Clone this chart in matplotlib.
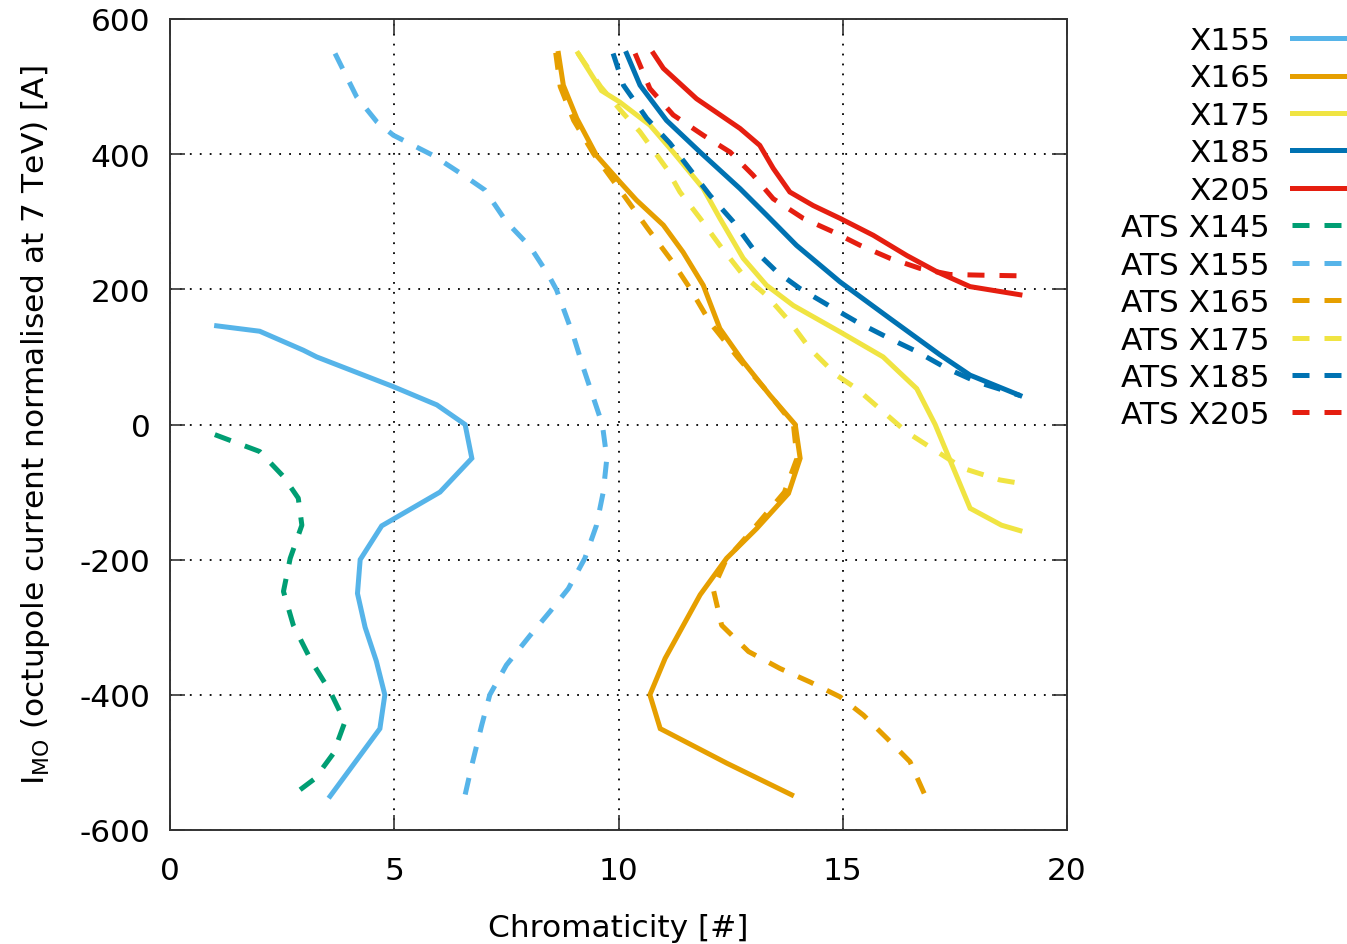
import matplotlib
matplotlib.use('Agg')
from matplotlib import pyplot as plt

plt.rcParams['axes.unicode_minus'] = False

# colours (gnuplot-like palette)
c_green = '#009e73'
c_lblue = '#56b4e9'
c_orange = '#e69f00'
c_yellow = '#f0e442'
c_dblue = '#0072b2'
c_red = '#e51e10'

# solid curves: chromaticity (x) vs octupole current (y)
x155_x = [1.04, 2.0, 2.97, 3.27, 4.98, 5.95, 6.58, 6.73, 6.02, 4.72, 4.24, 4.18, 4.35, 4.6, 4.79, 4.68, 3.57]
x155_y = [146, 138, 110, 100, 56, 29, 0, -50, -100, -150, -200, -250, -300, -350, -400, -450, -550]

x165_x = [8.66, 8.77, 9.07, 9.51, 10.03, 10.4, 11.0, 11.44, 11.89, 12.26, 12.78, 13.38, 13.94,
          14.05, 13.79, 13.08, 12.41, 11.82, 11.04, 10.7, 10.93, 12.41, 13.86]
x165_y = [549, 502, 453, 398, 359, 332, 295, 255, 206, 142, 93, 43, 0,
          -50, -102, -154, -198, -252, -346, -400, -450, -501, -548]

x175_x = [9.1, 9.62, 10.03, 10.7, 11.22, 11.89, 12.26, 12.78, 13.3, 13.9, 14.94, 15.9, 16.65,
          17.06, 17.84, 18.54, 18.95]
x175_y = [549, 494, 477, 443, 403, 349, 305, 246, 206, 176, 137, 100, 53, 0, -124, -149, -157]

x185_x = [10.18, 10.48, 11.07, 11.82, 12.71, 13.3, 13.97, 14.94, 16.05, 17.17, 17.84, 18.95]
x185_y = [549, 502, 450, 403, 349, 310, 265, 211, 157, 103, 73, 43]

x205_x = [10.78, 11.0, 11.74, 12.71, 13.15, 13.45, 13.82, 14.34, 14.94, 15.68, 16.43, 17.1, 17.84, 18.95]
x205_y = [549, 527, 482, 438, 413, 379, 344, 324, 305, 280, 250, 226, 204, 192]

# ATS (dashed) curves
ats145_x = [1.0, 2.0, 2.53, 2.86, 2.94, 2.68, 2.53, 2.75, 3.16, 3.57, 3.9, 3.64, 3.23, 2.75]
ats145_y = [-15, -40, -77, -109, -149, -198, -247, -297, -351, -395, -440, -487, -524, -548]

ats155_x = [3.68, 4.16, 4.61, 4.98, 5.87, 6.54, 7.02, 7.5, 8.03, 8.44, 8.62, 8.99, 9.22, 9.64,
            9.74, 9.66, 9.51, 9.25, 8.88, 8.47, 8.03, 7.5, 7.13, 6.95, 6.73, 6.58]
ats155_y = [549, 485, 448, 428, 398, 369, 347, 300, 263, 221, 199, 132, 83, 0,
            -50, -100, -149, -198, -243, -277, -312, -356, -400, -445, -504, -548]

ats165_x = [8.6, 8.7, 9.0, 9.45, 10.0, 10.65, 11.2, 11.6, 12.05, 12.65, 13.3, 13.9, 13.98, 13.7,
            13.0, 12.4, 12.11, 12.3, 12.9, 13.6, 14.27, 14.94, 15.46, 15.98, 16.5, 16.83]
ats165_y = [550, 500, 450, 400, 350, 290, 241, 201, 150, 100, 50, 0, -50, -100,
            -155, -200, -243, -297, -336, -361, -381, -403, -430, -464, -499, -548]

ats175_x = [9.1, 9.6, 10.07, 10.48, 11.07, 11.37, 11.82, 12.26, 12.78, 13.3, 13.82, 14.27, 14.86,
            15.31, 15.9, 16.42, 17.17, 17.69, 18.5, 18.95]
ats175_y = [549, 500, 463, 433, 379, 344, 305, 265, 221, 191, 152, 112, 73, 53, 19, -11, -43, -65, -82, -87]

ats185_x = [9.88, 10.11, 10.63, 11.15, 12.04, 12.56, 13.0, 13.53, 14.05, 14.79, 15.31, 16.05,
            16.65, 17.32, 17.99, 18.95]
ats185_y = [549, 502, 453, 416, 339, 300, 260, 226, 201, 172, 152, 127, 108, 83, 63, 43]

ats205_x = [10.37, 10.7, 11.22, 11.89, 12.49, 13.0, 13.45, 14.12, 14.79, 15.39, 16.05, 16.72,
            17.39, 18.06, 18.95]
ats205_y = [549, 497, 458, 428, 403, 369, 334, 305, 285, 265, 246, 231, 222, 221, 220]

x_ticks = [0, 5, 10, 15, 20]
y_ticks = [-600, -400, -200, 0, 200, 400, 600]

fs = 22.5
lw = 3.6
dash = (0, (3.4, 3.0))

fig = plt.figure(figsize=(13.47, 9.45), dpi=100)
ax = fig.add_axes([170 / 1347, 1 - 831 / 945, (1067 - 170) / 1347, (831 - 20) / 945])

solid = [('X155', x155_x, x155_y, c_lblue),
         ('X165', x165_x, x165_y, c_orange),
         ('X175', x175_x, x175_y, c_yellow),
         ('X185', x185_x, x185_y, c_dblue),
         ('X205', x205_x, x205_y, c_red)]
dashed = [('ATS X145', ats145_x, ats145_y, c_green),
          ('ATS X155', ats155_x, ats155_y, c_lblue),
          ('ATS X165', ats165_x, ats165_y, c_orange),
          ('ATS X175', ats175_x, ats175_y, c_yellow),
          ('ATS X185', ats185_x, ats185_y, c_dblue),
          ('ATS X205', ats205_x, ats205_y, c_red)]

for lab, xs, ys, c in solid:
    ax.plot(xs, ys, color=c, lw=lw, label=lab, solid_joinstyle='miter')
for lab, xs, ys, c in dashed:
    ax.plot(xs, ys, color=c, lw=lw, ls=dash, label=lab, dash_capstyle='butt')

ax.set_xlim(0, 20)
ax.set_ylim(-600, 600)
ax.set_xticks(x_ticks)
ax.set_yticks(y_ticks)
ax.grid(True, color='black', ls=(0, (1, 4.5)), lw=1.3)
ax.tick_params(direction='in', length=11, width=1.2, top=True, right=True,
               labelsize=fs, color='#333333')
ax.tick_params(axis='x', pad=19)
ax.tick_params(axis='y', pad=14)
for s in ax.spines.values():
    s.set_color('#333333')
    s.set_linewidth(1.4)

ax.set_xlabel('Chromaticity [#]', fontsize=fs, labelpad=20)
ax.set_ylabel(r'I$_{\mathrm{MO}}$ (octupole current normalised at 7 TeV) [A]', fontsize=fs, labelpad=20)

fig.legend(loc='upper right', bbox_to_anchor=(1373 / 1347, 1 - 27 / 945), frameon=False,
           markerfirst=False, fontsize=fs, handlelength=2.6, handletextpad=0.7,
           labelspacing=0.27, borderpad=0, borderaxespad=0)

fig.savefig('out.png', dpi=100)
